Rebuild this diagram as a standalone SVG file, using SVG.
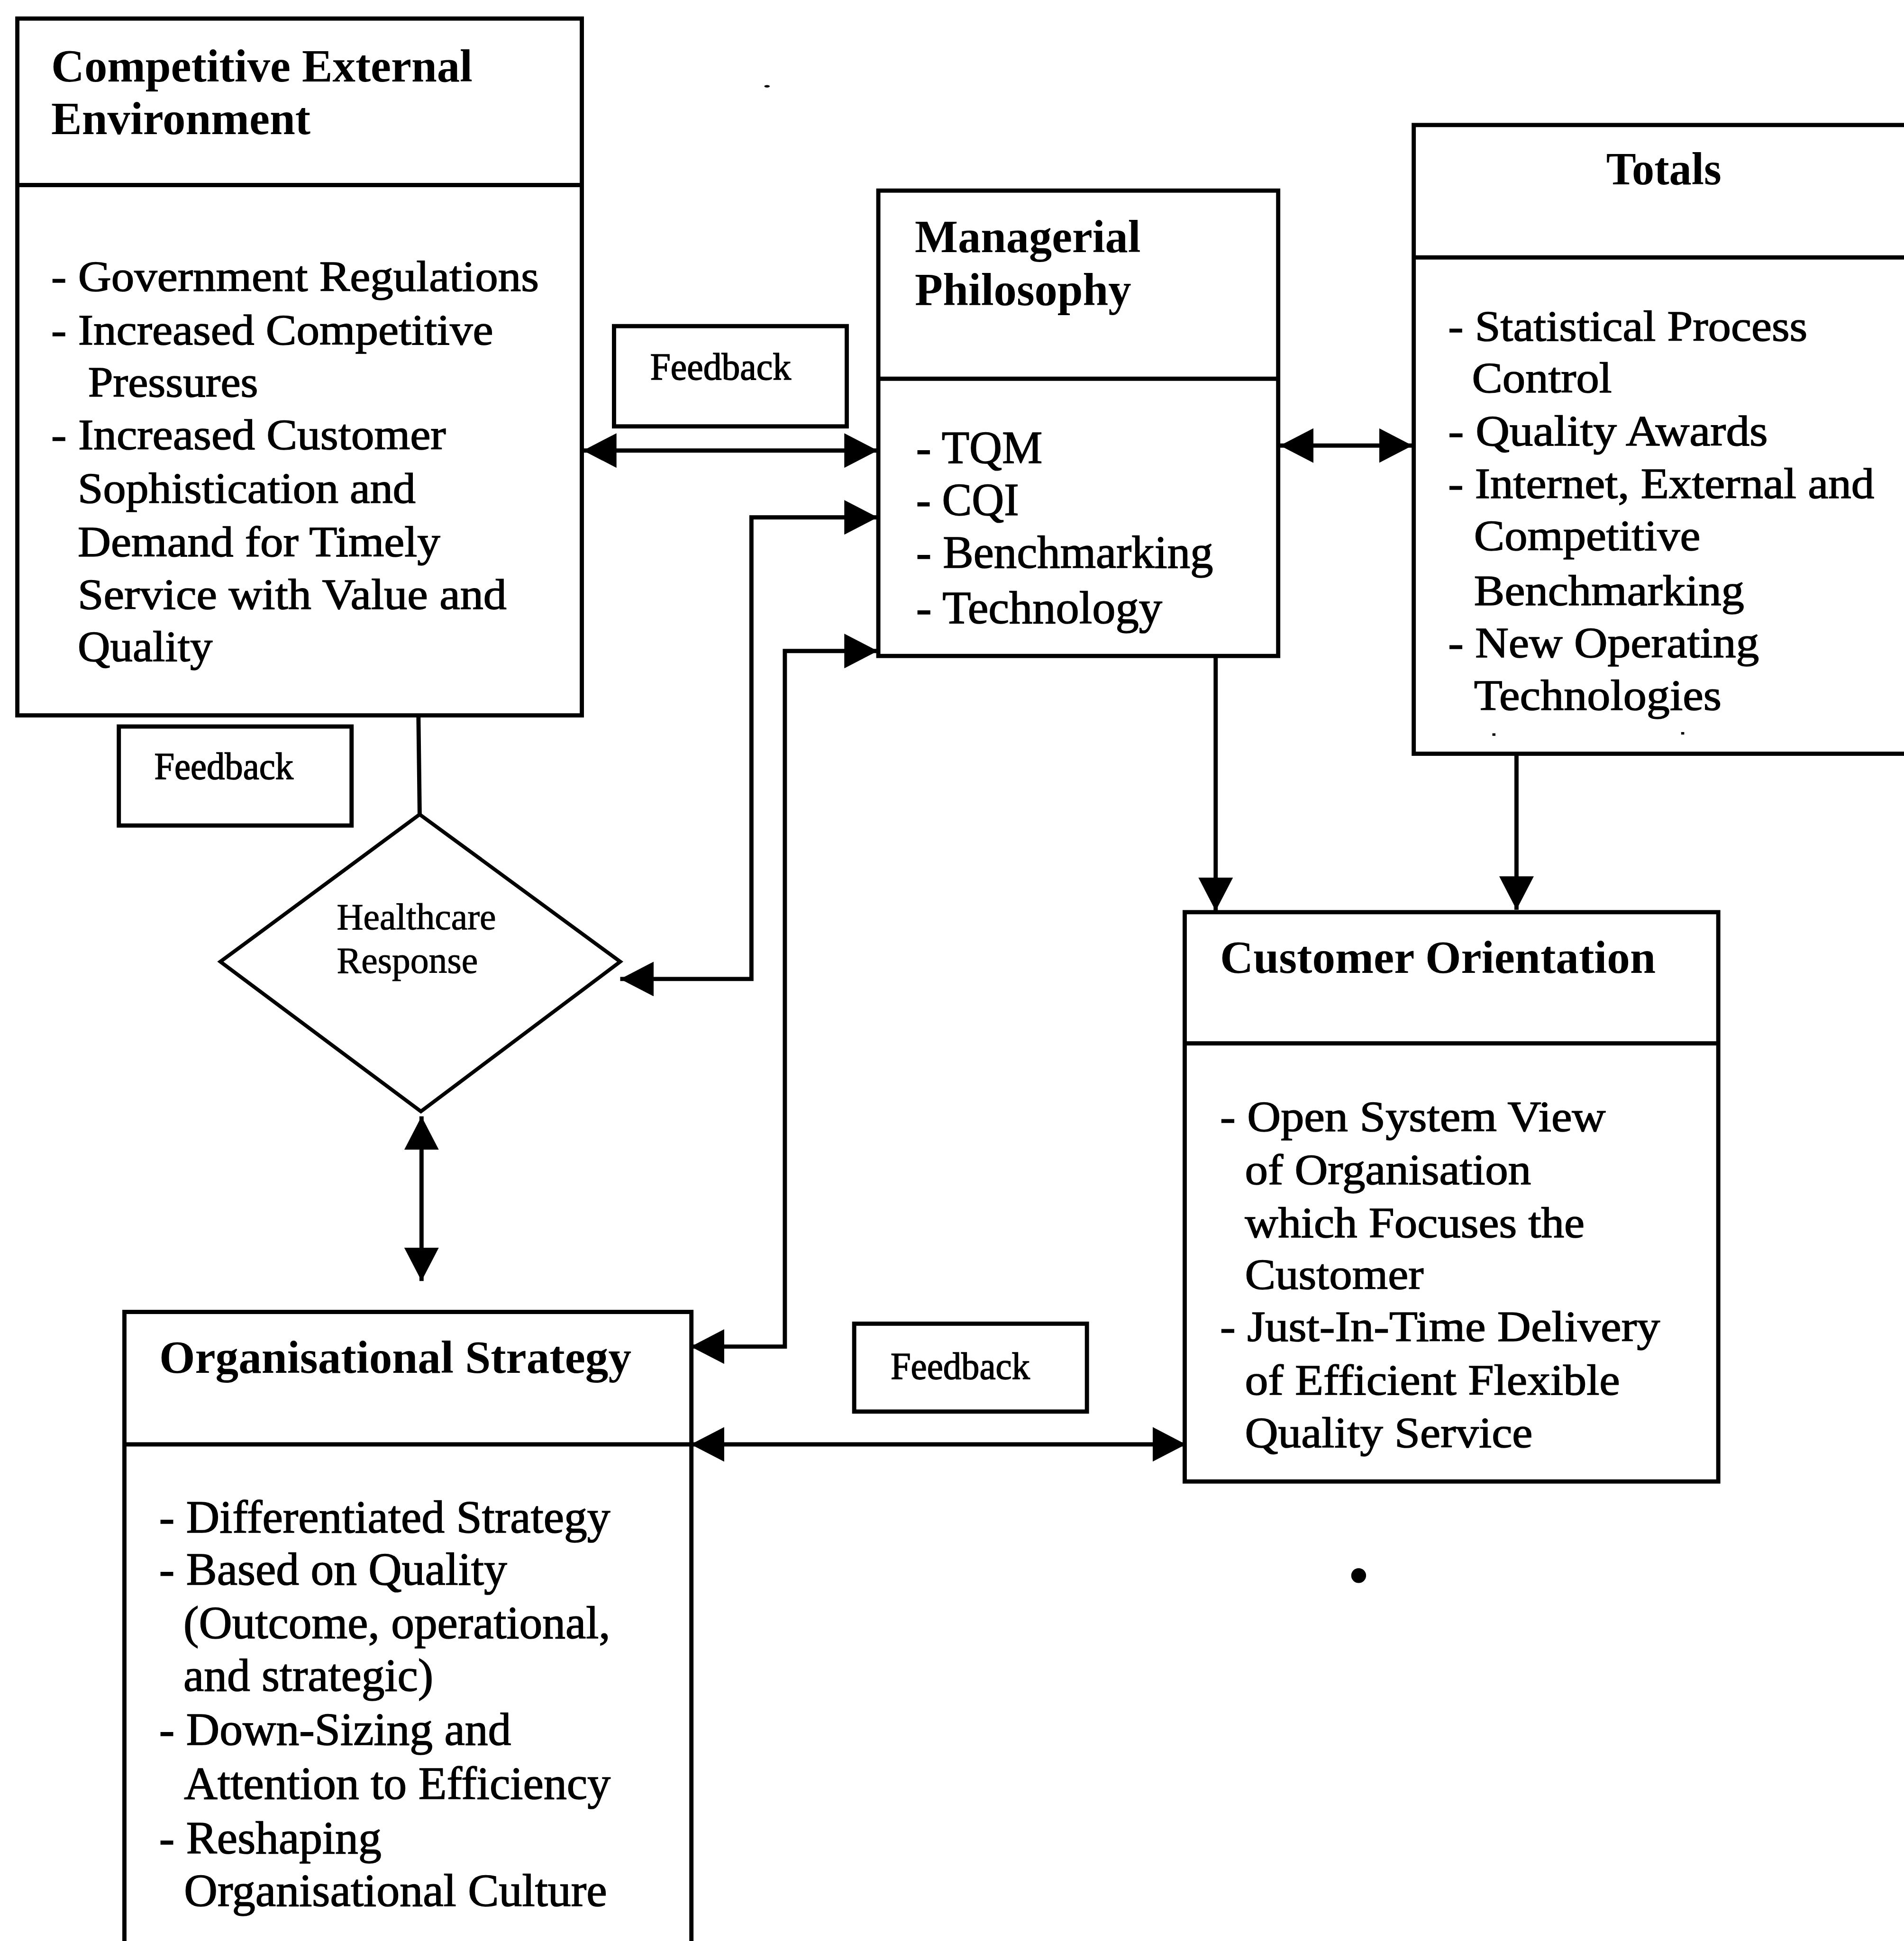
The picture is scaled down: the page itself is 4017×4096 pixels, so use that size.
<svg xmlns="http://www.w3.org/2000/svg" width="4017" height="4096" viewBox="0 0 4017 4096">
  <defs>
    <style>
      .box { fill: #fff; stroke: #000; stroke-width: 3.4; }
      .div { stroke: #000; stroke-width: 3.4; fill: none; }
      .lnk { stroke: #000; stroke-width: 3.4; fill: none; }
      .ttl { font-family: "Liberation Serif", "Times New Roman", serif; font-weight: bold; font-size: 37px; fill: #000; }
      .txt { font-family: "Liberation Serif", "Times New Roman", serif; font-size: 35px; fill: #000; stroke: #000; stroke-width: 0.6; }
      .txc { font-family: "Liberation Serif", "Times New Roman", serif; font-size: 37px; fill: #000; stroke: #000; stroke-width: 0.6; }
      .fb  { font-family: "Liberation Serif", "Times New Roman", serif; font-size: 31px; fill: #000; stroke: #000; stroke-width: 0.6; }
      .hc  { font-family: "Liberation Serif", "Times New Roman", serif; font-size: 30px; fill: #000; stroke: #000; stroke-width: 0.4; }
    </style>
    <marker id="ah" viewBox="0 0 27 28" refX="27" refY="14" markerWidth="27" markerHeight="28" markerUnits="userSpaceOnUse" orient="auto-start-reverse">
      <path d="M0,0 L27,14 L0,28 Z" fill="#000"/>
    </marker>
  </defs>
  <rect x="0" y="0" width="4017" height="4096" fill="#fff"/>
  <g transform="scale(2.6118)">

    <!-- connectors -->
    <g id="connectors">
      <line class="lnk" x1="471" y1="364" x2="709" y2="364" marker-start="url(#ah)" marker-end="url(#ah)"/>
      <line class="lnk" x1="1034" y1="360" x2="1141" y2="360" marker-start="url(#ah)" marker-end="url(#ah)"/>
      <line class="lnk" x1="982" y1="520" x2="982" y2="736" marker-end="url(#ah)"/>
      <line class="lnk" x1="1225" y1="599" x2="1225" y2="735" marker-end="url(#ah)"/>
      <line class="lnk" x1="338" y1="578" x2="339" y2="658"/>
      <line class="lnk" x1="340.5" y1="902" x2="340.5" y2="1035" marker-start="url(#ah)" marker-end="url(#ah)"/>
      <path class="lnk" d="M709,418 H607 V791 H501" marker-start="url(#ah)" marker-end="url(#ah)"/>
      <path class="lnk" d="M709,526 H634 V1088 H558" marker-start="url(#ah)" marker-end="url(#ah)"/>
      <line class="lnk" x1="558" y1="1167" x2="958" y2="1167" marker-start="url(#ah)" marker-end="url(#ah)"/>
    </g>

    <!-- Competitive External Environment -->
    <g id="external-environment">
      <rect class="box" x="14" y="15" width="456" height="563"/>
      <line class="div" x1="14" y1="149.5" x2="470" y2="149.5"/>
      <text class="ttl" x="41.4" y="65.8" textLength="340.3" lengthAdjust="spacingAndGlyphs">Competitive External</text>
      <text class="ttl" x="41.4" y="108.3" textLength="209.4" lengthAdjust="spacingAndGlyphs">Environment</text>
      <text class="txt" x="41.4" y="235" textLength="393.9" lengthAdjust="spacingAndGlyphs">- Government Regulations</text>
      <text class="txt" x="41.4" y="278.3" textLength="357" lengthAdjust="spacingAndGlyphs">- Increased Competitive</text>
      <text class="txt" x="71.1" y="320.5" textLength="137.4" lengthAdjust="spacingAndGlyphs">Pressures</text>
      <text class="txt" x="41.4" y="363" textLength="318.8" lengthAdjust="spacingAndGlyphs">- Increased Customer</text>
      <text class="txt" x="62.8" y="406.2" textLength="272.9" lengthAdjust="spacingAndGlyphs">Sophistication and</text>
      <text class="txt" x="62.8" y="449.5" textLength="292.8" lengthAdjust="spacingAndGlyphs">Demand for Timely</text>
      <text class="txt" x="62.8" y="492" textLength="346.4" lengthAdjust="spacingAndGlyphs">Service with Value and</text>
      <text class="txt" x="62.8" y="534" textLength="108.9" lengthAdjust="spacingAndGlyphs">Quality</text>
    </g>

    <!-- Managerial Philosophy -->
    <g id="managerial-philosophy">
      <rect class="box" x="709.5" y="154" width="323" height="376"/>
      <line class="div" x1="709.5" y1="306" x2="1032.5" y2="306"/>
      <text class="ttl" x="739" y="203.7" textLength="182.4" lengthAdjust="spacingAndGlyphs">Managerial</text>
      <text class="ttl" x="739" y="246.6" textLength="174.8" lengthAdjust="spacingAndGlyphs">Philosophy</text>
      <text class="txc" x="740" y="374" textLength="102" lengthAdjust="spacingAndGlyphs">- TQM</text>
      <text class="txc" x="740" y="416.3" textLength="83" lengthAdjust="spacingAndGlyphs">- CQI</text>
      <text class="txc" x="740" y="458.8" textLength="240" lengthAdjust="spacingAndGlyphs">- Benchmarking</text>
      <text class="txc" x="740" y="503.3" textLength="198.8" lengthAdjust="spacingAndGlyphs">- Technology</text>
    </g>

    <!-- Totals -->
    <g id="totals">
      <rect class="box" x="1142" y="101" width="420" height="508"/>
      <line class="div" x1="1142" y1="208" x2="1562" y2="208"/>
      <text class="ttl" x="1297.5" y="149" textLength="93" lengthAdjust="spacingAndGlyphs">Totals</text>
      <text class="txt" x="1169.8" y="275.3" textLength="290.2" lengthAdjust="spacingAndGlyphs">- Statistical Process</text>
      <text class="txt" x="1189" y="317" textLength="113" lengthAdjust="spacingAndGlyphs">Control</text>
      <text class="txt" x="1169.8" y="360" textLength="258.2" lengthAdjust="spacingAndGlyphs">- Quality Awards</text>
      <text class="txt" x="1169.8" y="402.4" textLength="344.2" lengthAdjust="spacingAndGlyphs">- Internet, External and</text>
      <text class="txt" x="1190.7" y="444.7" textLength="182.8" lengthAdjust="spacingAndGlyphs">Competitive</text>
      <text class="txt" x="1190.7" y="488.8" textLength="218.3" lengthAdjust="spacingAndGlyphs">Benchmarking</text>
      <text class="txt" x="1169.8" y="531" textLength="251.2" lengthAdjust="spacingAndGlyphs">- New Operating</text>
      <text class="txt" x="1190.7" y="573.5" textLength="199.9" lengthAdjust="spacingAndGlyphs">Technologies</text>
    </g>

    <!-- Customer Orientation -->
    <g id="customer-orientation">
      <rect class="box" x="957" y="737" width="431" height="460"/>
      <line class="div" x1="957" y1="843" x2="1388" y2="843"/>
      <text class="ttl" x="985.5" y="786" textLength="351.9" lengthAdjust="spacingAndGlyphs">Customer Orientation</text>
      <text class="txt" x="985.5" y="914" textLength="311.5" lengthAdjust="spacingAndGlyphs">- Open System View</text>
      <text class="txt" x="1005.6" y="957" textLength="231.2" lengthAdjust="spacingAndGlyphs">of Organisation</text>
      <text class="txt" x="1005.6" y="999.8" textLength="274.4" lengthAdjust="spacingAndGlyphs">which Focuses the</text>
      <text class="txt" x="1005.6" y="1041.6" textLength="144.4" lengthAdjust="spacingAndGlyphs">Customer</text>
      <text class="txt" x="985.5" y="1083.4" textLength="355.5" lengthAdjust="spacingAndGlyphs">- Just-In-Time Delivery</text>
      <text class="txt" x="1005.6" y="1126.8" textLength="303" lengthAdjust="spacingAndGlyphs">of Efficient Flexible</text>
      <text class="txt" x="1005.6" y="1169.3" textLength="232.4" lengthAdjust="spacingAndGlyphs">Quality Service</text>
    </g>

    <!-- Organisational Strategy -->
    <g id="organisational-strategy">
      <rect class="box" x="100.5" y="1060" width="458" height="560"/>
      <line class="div" x1="100.5" y1="1167" x2="558.5" y2="1167"/>
      <text class="ttl" x="128.6" y="1109.3" textLength="381.4" lengthAdjust="spacingAndGlyphs">Organisational Strategy</text>
      <text class="txc" x="128.6" y="1238.4" textLength="364.4" lengthAdjust="spacingAndGlyphs">- Differentiated Strategy</text>
      <text class="txc" x="128.6" y="1280.5" textLength="281" lengthAdjust="spacingAndGlyphs">- Based on Quality</text>
      <text class="txc" x="148.2" y="1323.6" textLength="344.8" lengthAdjust="spacingAndGlyphs">(Outcome, operational,</text>
      <text class="txc" x="148.2" y="1366" textLength="201.8" lengthAdjust="spacingAndGlyphs">and strategic)</text>
      <text class="txc" x="128.6" y="1409.6" textLength="284.3" lengthAdjust="spacingAndGlyphs">- Down-Sizing and</text>
      <text class="txc" x="148.7" y="1453.3" textLength="344.5" lengthAdjust="spacingAndGlyphs">Attention to Efficiency</text>
      <text class="txc" x="128.6" y="1497.4" textLength="179.5" lengthAdjust="spacingAndGlyphs">- Reshaping</text>
      <text class="txc" x="148.7" y="1539.8" textLength="341.7" lengthAdjust="spacingAndGlyphs">Organisational Culture</text>
    </g>

    <!-- Healthcare Response decision -->
    <g id="healthcare-response">
      <polygon class="box" points="339,658 501,777 340,898 178,777" style="stroke-width:3"/>
      <text class="hc" x="272" y="751" textLength="128.7" lengthAdjust="spacingAndGlyphs">Healthcare</text>
      <text class="hc" x="272" y="786" textLength="114" lengthAdjust="spacingAndGlyphs">Response</text>
    </g>

    <!-- Feedback labels -->
    <g id="feedback-top">
      <rect class="box" x="496" y="263.5" width="188" height="81"/>
      <text class="fb" x="525.2" y="306.6" textLength="113.8" lengthAdjust="spacingAndGlyphs">Feedback</text>
    </g>
    <g id="feedback-left">
      <rect class="box" x="96" y="587" width="188" height="80"/>
      <text class="fb" x="124.6" y="629.5" textLength="112.4" lengthAdjust="spacingAndGlyphs">Feedback</text>
    </g>
    <g id="feedback-bottom">
      <rect class="box" x="690" y="1069.5" width="188" height="71"/>
      <text class="fb" x="719.4" y="1114" textLength="112.6" lengthAdjust="spacingAndGlyphs">Feedback</text>
    </g>

    <!-- stray print marks -->
    <g id="specks" fill="#000">
      <circle cx="1097.5" cy="1273" r="6"/>
      <ellipse cx="619.6" cy="69.7" rx="2.2" ry="1"/>
      <rect x="1205.5" y="592.5" width="2.5" height="2"/>
      <rect x="1358" y="591.5" width="2.5" height="2"/>
    </g>
  </g>
</svg>
